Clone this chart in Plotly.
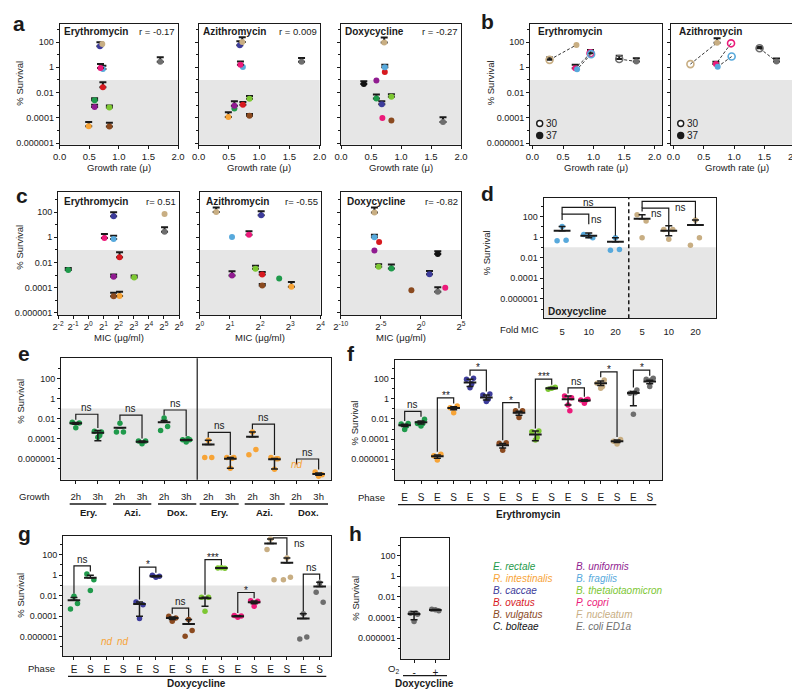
import math
import plotly.graph_objects as go

W, H = 800, 689
FONT = "Liberation Sans, Arial, Helvetica, sans-serif"
INK = "#1a1a1a"
SHADE = "#e6e6e6"
LOD = 0.1  # upper edge of shaded region (% survival)

# ---------------- data ----------------
SPECIES = ["E. rectale", "R. intestinalis", "B. caccae", "B. ovatus", "B. vulgatus", "C. bolteae",
           "B. uniformis", "B. fragilis", "B. thetaiotaomicron", "P. copri", "F. nucleatum", "E. coli ED1a"]
COLORS = ["#1f9a4b", "#f7a437", "#3d3c9b", "#d7191f", "#8b4a1f", "#111111",
          "#901b90", "#57a9dc", "#7dc733", "#ec1a7a", "#c8ae83", "#6e6e6e"]

# panel a / c  (species order as SPECIES; None = not measured)
GROWTH_RATE = [0.59, 0.49, 0.68, 0.73, 0.84, 0.38, 0.59, 0.73, 0.84, 0.69, 0.72, 1.70]
SURV_ERY = [0.0025, 0.000022, 46, 0.026, 0.000021, None, 0.00074, 0.74, 0.00066, 0.89, 69, 2.8]
ERR_ERY = [0.0011, 0.000026, 49, 0.040, 0.00002, None, 0.00038, 0.61, 0.00029, 0.97, 0, 3.4]
SURV_AZI = [0.00055, 0.00012, 55, 0.0011, 0.00015, None, 0.00093, 1.07, 0.0032, 1.6, 100, 2.8]
ERR_AZI = [0, 0.00016, 60, 0.0007, 0.00005, None, 0.0011, 0, 0.0023, 1.35, 134, 2.7]
SURV_DOX = [0.0034, None, 0.0012, 0.43, 0.000062, 0.048, 0.089, 1.0, 0.0046, 0.0001, 93, 0.000048]
ERR_DOX = [0.0037, None, 0.0009, 0, 0, 0.03, 0, 0.62, 0.0028, 0, 136, 0.000064]
MIC_ERY = [0.4, 4.2, 3.2, 4.2, 3.2, None, 3.2, 3.2, 8.2, 2.1, 33, 33]
MIC_AZI = [6.2, 8.2, 4.1, 4.2, 4.2, None, 2.1, 2.1, 3.6, 3.1, 1.46, None]
MIC_DOX = [0.078, None, 2.1, 0.027, 0.44, 4.3, 0.018, 0.018, 0.026, 8.2, 0.018, 4.3]
R_GROWTH = ["r = -0.17", "r = 0.009", "r = -0.27"]
R_MIC = ["r= 0.51", "r= -0.55", "r= -0.82"]
DRUGS = ["Erythromycin", "Azithromycin", "Doxycycline"]

# panel b (F. nucleatum, P. copri, B. fragilis, E. coli ED1a) at 30 and 37 degrees
B_SPECIES = [10, 9, 7, 11]
GROWTH_30 = [0.28, 0.95, 0.96, 1.42]
GROWTH_37 = [0.72, 0.70, 0.73, 1.70]
B_ERY_30 = [3.9, 12.9, 11, 4.5]
B_ERY_30_ERR = [2.0, 10.5, 0, 3.6]
B_ERY_37 = [59, 0.83, 0.69, 2.9]
B_ERY_37_ERR = [0, 0.79, 0, 2.3]
B_AZI_30 = [1.8, 79, 7.1, 32]
B_AZI_30_ERR = [0, 0, 0, 11]
B_AZI_37 = [89, 1.8, 1.12, 2.9]
B_AZI_37_ERR = [106, 0.95, 0, 2.0]

# panel d (doxycycline, fold MIC; B. fragilis then F. nucleatum)
D_TICKS = ["5", "10", "20", "5", "10", "20"]
D_SPECIES = [7, 7, 7, 10, 10, 10]
D_POINTS = [[0.44, 0.5, 10.5], [1.8, 0.85, 1.35], [0.052, 0.062, 0.85],
            [145, 37, 0.85], [5.6, 5.6, 0.63], [0.16, 0.85, 47]]
D_MEAN = [4.2, 1.35, 0.35, 59, 4.2, 15]
D_ERR_UP = [6.3, 1.1, 0.5, 86, 8.7, 32]
D_ERR_DN = [0, 0.5, 0, 0, 2.85, 0]

# panel e (growth 2h / 3h; E. rectale then R. intestinalis)
E_TICKS = ["2h", "3h"] * 6
E_GROUPS = ["Ery.", "Azi.", "Dox.", "Ery.", "Azi.", "Dox."]
E_SPECIES = [0] * 6 + [1] * 6
E_POINTS = [[0.0042, 0.0036, 0.0012], [0.00055, 0.00044, 0.000138, 0.0002],
            [0.00044, 0.00044, 0.0034], [0.000056, 0.000056, 0.000031],
            [0.00063, 0.0016, 0.0112], [0.000076, 0.000076, 0.000045, 0.000095],
            [0.0000013, 0.0000013, 0.000066], [0.0000013, 0.0000013, 0.00000011, 0.0000011],
            [0.0000025, 0.0000079, 0.00044], [0.0000013, 0.000001, 0.000000085, 0.000001],
            [], [0.000000046, 0.000000025, 0.000000018]]
E_MEAN = [0.0034, 0.00037, 0.0012, 0.000048, 0.0042, 0.000073, 0.000026, 0.000001,
          0.00015, 0.00000085, None, 0.00000003]
E_ERR_UP = [0.0007, 0.00026, 0, 0.000008, 0.002, 0.00001, 0.00004, 0.0000003,
            0.00029, 0.0000002, None, 0.000000008]
E_ERR_DN = [0.0007, 0.00031, 0, 0.000008, 0, 0.00001, 0, 0.00000089,
            0, 0.00000076, None, 0.000000008]
E_PAIRS = [(1, 2, "ns"), (3, 4, "ns"), (5, 6, "ns"), (7, 8, "ns"), (9, 10, "ns"), (11, 12, "ns")]

# panel f / g (phase E / S)
PHASE_TICKS = ["E", "S"] * 8
PHASE_SPECIES = [0, 0, 1, 1, 2, 2, 4, 4, 8, 8, 9, 9, 10, 10, 11, 11]
F_POINTS = [[0.0032, 0.0035, 0.00089, 0.002], [0.0036, 0.0091, 0.002, 0.0036],
            [0.0000022, 0.0000032, 0.00000083], [0.13, 0.19, 0.042],
            [85, 107, 12.6, 30], [2.4, 3.0, 0.52, 0.89],
            [0.000038, 0.000044, 0.0000081], [0.066, 0.066, 0.0135],
            [0.00055, 0.00063, 0.000081, 0.000148], [8.7, 13.8, 11],
            [1.9, 1.29, 0.24, 0.066], [0.76, 0.89, 0.35, 0.76],
            [35, 74, 11, 16], [0.000063, 0.000093, 0.000032],
            [3.5, 7.4, 0.029, 4.0], [85, 107, 16, 74]]
F_MEAN = [0.0024, 0.0046, 0.000002, 0.12, 40, 1.3, 0.000025, 0.040,
          0.00028, 11.2, 0.88, 0.69, 34, 0.000063, 3.7, 50]
F_ERR_UP = [0.0006, 0.0015, 0.0000007, 0.04, 45, 1.1, 0.000012, 0.017,
            0.00035, 1.5, 1.0, 0.12, 25, 0.000018, 1.5, 20]
F_ERR_DN = [0.0006, 0.0015, 0.0000007, 0.04, 24, 0.54, 0.000012, 0.017,
            0.00021, 1.5, 0.64, 0.12, 14, 0.000018, 3.5, 20]
F_PAIRS = [(1, 2, "ns"), (3, 4, "**"), (5, 6, "*"), (7, 8, "*"), (9, 10, "***"),
           (11, 12, "ns"), (13, 14, "*"), (15, 16, "*")]

G_POINTS = [[0.0005, 0.0017, 0.0085], [1.29, 0.36, 0.031], [], [],
            [0.0024, 0.0013, 0.000058], [0.95, 0.78, 0.63],
            [0.000095, 0.000066, 0.000032], [0.0000011, 0.0000039, 0.000046],
            [0.0069, 0.0069, 0.0003], [5.0, 4.8, 5.2],
            [0.000112, 0.000105, 0.000079], [0.0032, 0.0028, 0.00091],
            [310, 0.36, 3400], [0.36, 0.62, 47],
            [0.00000059, 0.00000093, 0.000174], [0.0214, 0.0022, 0.174]]
G_MEAN = [0.0036, 0.56, None, None, 0.0015, 0.78, 0.000064, 0.000017,
          0.0055, 5.0, 0.0001, 0.0023, 1240, 16, 0.000058, 0.08]
G_ERR_UP = [0.003, 0.4, None, None, 0.0009, 0.09, 0.000018, 0.000029,
            0.0014, 0.1, 0.00001, 0.0007, 2200, 31, 0.000116, 0.12]
G_ERR_DN = [0, 0, None, None, 0.0014, 0.09, 0.000018, 0,
            0.0046, 0.1, 0.00001, 0.0007, 0, 0, 0, 0]
G_PAIRS = [(1, 2, "ns"), (5, 6, "*"), (7, 8, "ns"), (9, 10, "***"), (11, 12, "*"),
           (13, 14, "ns"), (15, 16, "ns")]

# panel h (oxygen)
H_TICKS = ["-", "+"]
H_POINTS = [[0.00026, 0.0002, 0.00004, 0.00026], [0.00063, 0.00044, 0.00055]]
H_MEAN = [0.00022, 0.00054]
H_ERR_UP = [0.00016, 0.00005]
H_ERR_DN = [0.00016, 0.00005]

YT = [1e-6, 1e-4, 1e-2, 1, 100]
YTT = ["0.000001", "0.0001", "0.01", "1", "100"]
MINOR = [10.0 ** k for k in range(-9, 5) if k % 2]

# ---------------- layout geometry (pixels) ----------------
BOX_A = [(51.7, 170, 15.7, 136.7), (190.7, 311.7, 15.7, 136.7), (333, 453, 15.7, 136.7)]
BOX_B = [(522, 654, 15.7, 136.7), (663, 794, 15.7, 136.7)]
BOX_C = [(50, 171, 184, 307), (191.7, 312.5, 184, 307), (332.7, 453, 184, 307)]
BOX_D = (535.7, 707.7, 190, 310.3)
BOX_E = (53, 323, 350.3, 471.7)
BOX_F = (386.7, 654.3, 352.3, 472.3)
BOX_G = (55, 323.3, 528.3, 648.3)
BOX_H = (393.3, 440.7, 530, 651)
L2 = math.log10(2)

fig = go.Figure()
lay = dict(width=W, height=H, margin=dict(l=0, r=0, t=0, b=0, pad=0), template="none",
           paper_bgcolor="white", plot_bgcolor="white", showlegend=False,
           font=dict(family=FONT, size=10, color=INK))
shapes, annos = [], []
AX = []


def add_axes(box, xr, yr, xtype="linear", ylabels=True, xt=None, xtt=None, xticks="outside",
             xstand=0, xfont=9.5):
    n = len(AX) + 1
    xid = "x" if n == 1 else f"x{n}"
    yid = "y" if n == 1 else f"y{n}"
    x0, x1, y0, y1 = box
    xa = dict(domain=[x0 / W, x1 / W], range=xr, type=xtype, anchor=yid, showline=True, mirror=True,
              linecolor=INK, linewidth=1, ticks=xticks, ticklen=3, tickcolor=INK, showgrid=False,
              zeroline=False, tickfont=dict(size=xfont, family=FONT, color=INK), automargin=False,
              ticklabelstandoff=xstand, fixedrange=True)
    if xt is not None:
        xa.update(tickmode="array", tickvals=xt, ticktext=xtt)
    ya = dict(domain=[1 - y1 / H, 1 - y0 / H], range=yr, type="log", anchor=xid, showline=True,
              mirror=True, linecolor=INK, linewidth=1, ticks="outside", ticklen=3, tickcolor=INK,
              showgrid=False, zeroline=False, tickmode="array", tickvals=YT, ticktext=YTT,
              showticklabels=ylabels, tickfont=dict(size=9, family=FONT, color=INK),
              automargin=False, fixedrange=True,
              minor=dict(tickmode="array", tickvals=MINOR, ticks="outside", ticklen=2,
                         tickcolor=INK, showgrid=False))
    lay["xaxis" if n == 1 else f"xaxis{n}"] = xa
    lay["yaxis" if n == 1 else f"yaxis{n}"] = ya
    frac = (math.log10(LOD) - yr[0]) / (yr[1] - yr[0])
    shapes.append(dict(type="rect", xref=f"{xid} domain", yref=f"{yid} domain", x0=0, x1=1,
                       y0=0, y1=frac, fillcolor=SHADE, line=dict(width=0), layer="below"))
    AX.append((xid, yid))
    return xid, yid


def txt(x, y, s, size=9.5, bold=False, italic=False, color=INK, xa="center", ya="middle", angle=0):
    if bold:
        s = f"<b>{s}</b>"
    if italic:
        s = f"<i>{s}</i>"
    annos.append(dict(xref="paper", yref="paper", x=x / W, y=1 - y / H, text=s, showarrow=False,
                      xanchor=xa, yanchor=ya, textangle=angle, borderpad=0,
                      font=dict(size=size, family=FONT, color=color)))


def hline(x0, x1, y, width=1.3):
    shapes.append(dict(type="line", xref="paper", yref="paper", x0=x0 / W, x1=x1 / W,
                       y0=1 - y / H, y1=1 - y / H, line=dict(color=INK, width=width)))


def point(xid, yid, x, y, color, err=0, size=6, symbol="circle"):
    kw = {}
    if err:
        kw["error_y"] = dict(type="data", symmetric=False, array=[err], arrayminus=[0],
                             color=INK, thickness=2, width=3.5)
    mk = dict(color=color, size=size, symbol=symbol, line=dict(width=1.6 if "open" in symbol else 0))
    fig.add_trace(go.Scatter(x=[x], y=[y], xaxis=xid, yaxis=yid, mode="markers", marker=mk,
                             hoverinfo="skip", cliponaxis=False, **kw))


JIT_PX = [-3.5, 3.5, 0.0, 1.8]


def groups(xid, yid, box, xr, points, species, mean, up, dn, msize=9, psize=5.5, jit=JIT_PX):
    ppc = (box[1] - box[0]) / (xr[1] - xr[0])
    for i, vals in enumerate(points):
        if not vals:
            continue
        xs = [i + 1 + jit[k % len(jit)] / ppc for k in range(len(vals))]
        fig.add_trace(go.Scatter(x=xs, y=vals, xaxis=xid, yaxis=yid, mode="markers",
                                 marker=dict(color=COLORS[species[i]], size=psize, line=dict(width=0)),
                                 hoverinfo="skip"))
    xs = list(range(1, len(mean) + 1))
    fig.add_trace(go.Scatter(x=xs, y=mean, xaxis=xid, yaxis=yid, mode="markers",
                             marker=dict(symbol="line-ew", size=msize, color=INK,
                                         line=dict(width=2, color=INK)),
                             error_y=dict(type="data", symmetric=False, array=up, arrayminus=dn,
                                          color=INK, thickness=1.5, width=3.5),
                             hoverinfo="skip"))


def group_top(pts, m, u):
    vals = list(pts)
    if m is not None:
        vals.append(m + (u or 0))
    return math.log10(max(vals)) if vals else None


def sig_label(xid, yid, x, y, lab, xa="center", ya="bottom"):
    annos.append(dict(xref=xid, yref=yid, x=x, y=y, text=lab, showarrow=False, xanchor=xa,
                      yanchor=ya, yshift=(-5 if "*" in lab else -1) if ya == "bottom" else 0,
                      font=dict(size=10, family=FONT, color=INK)))


def bracket_line(xid, yid, i, j, li, top, lj):
    fig.add_trace(go.Scatter(x=[i, i, j, j], y=[10 ** li, 10 ** top, 10 ** top, 10 ** lj],
                             xaxis=xid, yaxis=yid, mode="lines",
                             line=dict(color=INK, width=1.2), hoverinfo="skip"))


def brackets(xid, yid, yr, pairs, points, mean, up, gap=0.25, rise=0.55):
    for i, j, lab in pairs:
        ti = group_top(points[i - 1], mean[i - 1], up[i - 1])
        tj = group_top(points[j - 1], mean[j - 1], up[j - 1])
        li = ti + gap if ti is not None else None
        lj = tj + gap if tj is not None else None
        if li is None:
            li = lj + 0.5
        if lj is None:
            lj = li + 0.5
        top = max(li, lj) + rise
        if top > yr[1] - 0.15:
            top = yr[1] - 0.15
            li, lj = min(li, top), min(lj, top)
            bracket_line(xid, yid, i, j, li, top, lj)
            sig_label(xid, yid, j + 0.3, top - 0.55, lab, xa="left", ya="middle")
        else:
            bracket_line(xid, yid, i, j, li, top, lj)
            sig_label(xid, yid, (i + j) / 2, top, lab)


# ---------------- panel a ----------------
SURVS = [SURV_ERY, SURV_AZI, SURV_DOX]
ERRS = [ERR_ERY, ERR_AZI, ERR_DOX]
MICS = [MIC_ERY, MIC_AZI, MIC_DOX]
for k in range(3):
    box = BOX_A[k]
    xid, yid = add_axes(box, [0, 2], [-6.12, 3.45], ylabels=(k == 0),
                        xt=[0, 0.5, 1, 1.5, 2], xtt=["0.0", "0.5", "1.0", "1.5", "2.0"])
    for s in range(12):
        if SURVS[k][s] is not None:
            point(xid, yid, GROWTH_RATE[s], SURVS[k][s], COLORS[s], ERRS[k][s])
    txt(box[0] + 3.3, box[2] + 7.8, DRUGS[k], size=10, bold=True, xa="left")
    txt(box[1] - 2, box[2] + 7.8, R_GROWTH[k], size=9.5, xa="right")
    txt((box[0] + box[1]) / 2, 159, "Growth rate (\u03bc)", size=9.5)

# ---------------- panel b ----------------
B_DATA = [(B_ERY_30, B_ERY_30_ERR, B_ERY_37, B_ERY_37_ERR), (B_AZI_30, B_AZI_30_ERR, B_AZI_37, B_AZI_37_ERR)]
for k in range(2):
    box = BOX_B[k]
    xid, yid = add_axes(box, [-0.04, 2.12], [-6.12, 3.45], ylabels=(k == 0),
                        xt=[0, 0.5, 1, 1.5, 2], xtt=["0.0", "0.5", "1.0", "1.5", "2.0"])
    s30, e30, s37, e37 = B_DATA[k]
    for q in range(4):
        fig.add_trace(go.Scatter(x=[GROWTH_30[q], GROWTH_37[q]], y=[s30[q], s37[q]], xaxis=xid,
                                 yaxis=yid, mode="lines",
                                 line=dict(color="#333333", width=1, dash="3px,2px"),
                                 hoverinfo="skip"))
    for q in range(4):
        c = COLORS[B_SPECIES[q]]
        point(xid, yid, GROWTH_37[q], s37[q], c, e37[q])
        point(xid, yid, GROWTH_30[q], s30[q], c, e30[q], size=7, symbol="circle-open")
    txt(box[0] + 7, box[2] + 7.8, DRUGS[k], size=10, bold=True, xa="left")
    txt((box[0] + box[1]) / 2, 159, "Growth rate (\u03bc)", size=9.5)
    cx = box[0] + 9.7
    for cy, lab, filled in [(115.5, "30", False), (127.5, "37", True)]:
        shapes.append(dict(type="circle", xref="paper", yref="paper", x0=(cx - 3) / W,
                           x1=(cx + 3) / W, y0=1 - (cy + 3) / H, y1=1 - (cy - 3) / H,
                           fillcolor=INK if filled else "white",
                           line=dict(color=INK, width=1.4)))
        txt(cx + 5.5, cy, lab, size=10, xa="left")

# ---------------- panel c ----------------
C_XR = [[-2 * L2, 6 * L2], [0, 4 * L2], [-10 * L2, 5 * L2]]
C_TK = [list(range(-2, 7)), list(range(0, 5)), [-10, -5, 0, 5]]
for k in range(3):
    box = BOX_C[k]
    xid, yid = add_axes(box, C_XR[k], [-6.16, 3.59], xtype="log", ylabels=(k == 0),
                        xt=[2.0 ** e for e in C_TK[k]],
                        xtt=[f"2<sup>{e}</sup>" for e in C_TK[k]], xfont=9.5)
    for s in range(12):
        if SURVS[k][s] is not None and MICS[k][s] is not None:
            point(xid, yid, MICS[k][s], SURVS[k][s], COLORS[s], ERRS[k][s])
    txt(box[0] + 5, box[2] + 9.3, DRUGS[k], size=10, bold=True, xa="left")
    txt(box[1] - 2, box[2] + 9.3, R_MIC[k], size=9.5, xa="right")
    txt((box[0] + box[1]) / 2, 329, "MIC (\u03bcg/ml)", size=9.5)

# ---------------- panel d ----------------
YR_D = [-7.9, 3.8]
xr = [0.31, 6.76]
xid, yid = add_axes(BOX_D, xr, YR_D, xt=list(range(1, 7)), xtt=D_TICKS, xticks="", xstand=4)
groups(xid, yid, BOX_D, xr, D_POINTS, D_SPECIES, D_MEAN, D_ERR_UP, D_ERR_DN, msize=12,
       jit=[-5, 4, 0, 2])
shapes.append(dict(type="line", xref=xid, yref=f"{yid} domain", x0=3.5, x1=3.5, y0=0, y1=1,
                   line=dict(color=INK, width=1.5, dash="4px,3px")))
for i, j, top, li, lj in [(1, 3, 2.89, 2.23, 0.13), (1, 2, 2.23, 1.67, 1.25),
                          (4, 6, 3.48, 2.82, 1.84), (4, 5, 2.82, 2.49, 0.92)]:
    bracket_line(xid, yid, i, j, li, top, lj)
for x, y in [(2.0, 3.38), (2.3, 1.74), (4.55, 2.33), (5.45, 2.92)]:
    sig_label(xid, yid, x, y, "ns", ya="middle")
txt(538.5, 303, "Doxycycline", size=10, bold=True, xa="left")
txt(511.7, 321.3, "Fold MIC", size=9.5)

# ---------------- panel e ----------------
YR_E = [-8.1, 4.0]
xr = [0.33, 12.56]
xid, yid = add_axes(BOX_E, xr, YR_E, xt=list(range(1, 13)), xtt=E_TICKS, xstand=5)
brackets(xid, yid, YR_E, E_PAIRS, E_POINTS, E_MEAN, E_ERR_UP)
groups(xid, yid, BOX_E, xr, E_POINTS, E_SPECIES, E_MEAN, E_ERR_UP, E_ERR_DN)
shapes.append(dict(type="line", xref=xid, yref=f"{yid} domain", x0=6.5, x1=6.5, y0=0, y1=1,
                   line=dict(color=INK, width=1.2)))
annos.append(dict(xref=xid, yref="paper", x=11, y=1 - 464.3 / H, text="<i>nd</i>", showarrow=False,
                  font=dict(size=10, family=FONT, color=COLORS[1])))
txt(26.7, 488.3, "Growth", size=9.5)
for g, (a0, a1) in enumerate([(61.7, 98.3), (105, 143.3), (150, 188.3), (191.7, 230.7),
                              (236.7, 276.7), (281.7, 320)]):
    hline(a0, a1, 496)
    txt((a0 + a1) / 2, 504.5, E_GROUPS[g], size=9.5, bold=True)

# ---------------- panel f ----------------
YR_F = [-8.08, 3.81]
xr = [0.39, 16.77]
xid, yid = add_axes(BOX_F, xr, YR_F, xt=list(range(1, 17)), xtt=PHASE_TICKS, xstand=5, xfont=10)
brackets(xid, yid, YR_F, F_PAIRS, F_POINTS, F_MEAN, F_ERR_UP)
groups(xid, yid, BOX_F, xr, F_POINTS, PHASE_SPECIES, F_MEAN, F_ERR_UP, F_ERR_DN)
txt(363, 489, "Phase", size=9.5)
hline(390, 648.3, 496.7)
txt(520, 507, "Erythromycin", size=10, bold=True)

# ---------------- panel g ----------------
YR_G = [-7.92, 3.79]
xr = [0.33, 16.71]
xid, yid = add_axes(BOX_G, xr, YR_G, xt=list(range(1, 17)), xtt=PHASE_TICKS, xstand=1, xfont=10)
brackets(xid, yid, YR_G, G_PAIRS, G_POINTS, G_MEAN, G_ERR_UP)
groups(xid, yid, BOX_G, xr, G_POINTS, PHASE_SPECIES, G_MEAN, G_ERR_UP, G_ERR_DN)
for c in (3, 4):
    annos.append(dict(xref=xid, yref="paper", x=c, y=1 - 641 / H, text="<i>nd</i>", showarrow=False,
                      font=dict(size=10, family=FONT, color=COLORS[1])))
txt(33, 660.7, "Phase", size=9.5)
hline(60, 318.3, 668.3)
txt(188.3, 675.5, "Doxycycline", size=10, bold=True)

# ---------------- panel h ----------------
YR_H = [-8.04, 3.72]
xr = [0.40, 2.63]
xid, yid = add_axes(BOX_H, xr, YR_H, xt=[1, 2], xtt=H_TICKS, xstand=1, xfont=10)
groups(xid, yid, BOX_H, xr, H_POINTS, [11, 11], H_MEAN, H_ERR_UP, H_ERR_DN)
txt(385, 661, "O<sub>2</sub>", size=9.5)
hline(395, 439, 667.7)
txt(416.7, 675.5, "Doxycycline", size=10, bold=True)

# ---------------- shared labels ----------------
for x, y in [(11.7, 75), (483.3, 75), (11.7, 239), (478.3, 245), (11.7, 393),
             (346.7, 414.7), (11.7, 587), (346.7, 590)]:
    txt(x, y, "% Survival", size=9.5, angle=-90)
for x, y, s in [(11, 15, "a"), (479, 14, "b"), (14, 188, "c"), (479, 185, "d"),
                (16, 345, "e"), (343, 345, "f"), (16, 525, "g"), (347, 525, "h")]:
    txt(x, y, s, size=21, bold=True)

# legend (species colour key)
for idx, name in enumerate(SPECIES):
    col, row = divmod(idx, 6)
    txt(484 + 83 * col, 558.3 + 12.1 * row, name, size=10, italic=True, color=COLORS[idx], xa="left")

lay["shapes"] = shapes
lay["annotations"] = annos
fig.update_layout(**lay)
fig.write_html("out.html", config={"displayModeBar": False})
